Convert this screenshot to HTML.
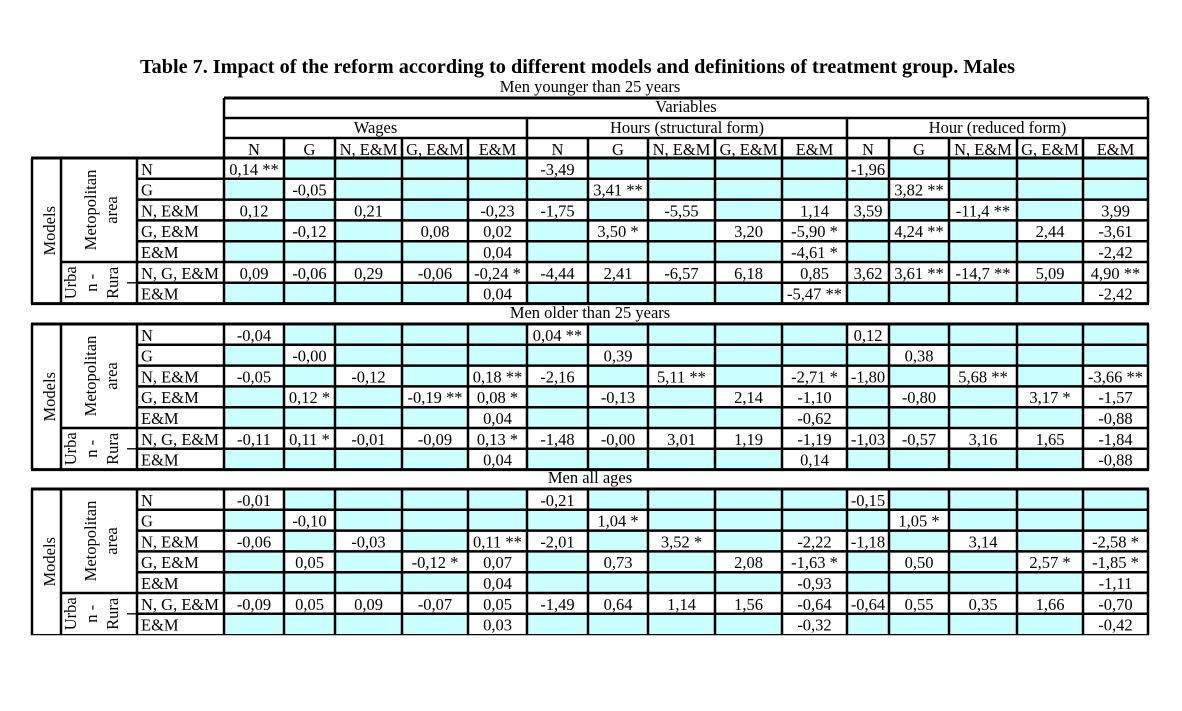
<!DOCTYPE html>
<html>
<head>
<meta charset="utf-8">
<style>
html,body{margin:0;padding:0;background:#fff;}
svg{display:block;}
</style>
</head>
<body>
<svg xmlns="http://www.w3.org/2000/svg" width="1182" height="711" viewBox="0 0 1182 711" font-family="'Liberation Serif', 'Times New Roman', serif" font-size="16.5" fill="#000">
<defs>
<g id="cy" fill="#ccffff">
<rect x="284" y="0" width="243" height="20.8"/>
<rect x="588" y="0" width="259" height="20.8"/>
<rect x="889" y="0" width="259" height="20.8"/>
<rect x="224" y="20.8" width="60" height="20.8"/>
<rect x="335" y="20.8" width="192" height="20.8"/>
<rect x="527" y="20.8" width="61" height="20.8"/>
<rect x="648" y="20.8" width="199" height="20.8"/>
<rect x="847" y="20.8" width="42" height="20.8"/>
<rect x="949" y="20.8" width="199" height="20.8"/>
<rect x="284" y="41.6" width="51" height="20.8"/>
<rect x="402" y="41.6" width="66" height="20.8"/>
<rect x="588" y="41.6" width="60" height="20.8"/>
<rect x="715" y="41.6" width="67" height="20.8"/>
<rect x="889" y="41.6" width="60" height="20.8"/>
<rect x="1017" y="41.6" width="66" height="20.8"/>
<rect x="224" y="62.4" width="60" height="20.8"/>
<rect x="335" y="62.4" width="67" height="20.8"/>
<rect x="527" y="62.4" width="61" height="20.8"/>
<rect x="648" y="62.4" width="67" height="20.8"/>
<rect x="847" y="62.4" width="42" height="20.8"/>
<rect x="949" y="62.4" width="68" height="20.8"/>
<rect x="224" y="83.2" width="244" height="20.8"/>
<rect x="527" y="83.2" width="255" height="20.8"/>
<rect x="847" y="83.2" width="236" height="20.8"/>
<rect x="224" y="124.8" width="244" height="20.8"/>
<rect x="527" y="124.8" width="255" height="20.8"/>
<rect x="847" y="124.8" width="236" height="20.8"/>
</g>
<g id="ln">
<path d="M137 20.8H1148M137 41.6H1148M137 62.4H1148M137 83.2H1148M61 104H1148M137 124.8H1148M32 0V145.6M61 0V145.6M137 0V145.6M224 0V145.6M284 0V145.6M335 0V145.6M402 0V145.6M468 0V145.6M527 0V145.6M588 0V145.6M648 0V145.6M715 0V145.6M782 0V145.6M847 0V145.6M889 0V145.6M949 0V145.6M1017 0V145.6M1083 0V145.6M1148 0V145.6" stroke="#000" stroke-width="2.5" fill="none"/>
</g>
</defs>

<!-- Title -->
<text x="140" y="73" font-weight="bold" font-size="20" textLength="875" lengthAdjust="spacingAndGlyphs">Table 7. Impact of the reform according to different models and definitions of treatment group. Males</text>
<text x="590" y="92" text-anchor="middle">Men younger than 25 years</text>
<text x="590" y="318" text-anchor="middle">Men older than 25 years</text>
<text x="590" y="483" text-anchor="middle">Men all ages</text>

<!-- Cyan fills -->
<use href="#cy" transform="translate(0,158)"/>
<use href="#cy" transform="translate(0,324)"/>
<use href="#cy" transform="translate(0,489)"/>

<!-- Header lines -->
<path d="M224 98H1148" stroke="#000" stroke-width="3" fill="none"/>
<path d="M224 118H1148M224 138H1148M224 98V158M1148 98V158M527 118V158M847 118V158M284 138V158M335 138V158M402 138V158M468 138V158M588 138V158M648 138V158M715 138V158M782 138V158M889 138V158M949 138V158M1017 138V158M1083 138V158" stroke="#000" stroke-width="2.5" fill="none"/>

<!-- Block lines -->
<use href="#ln" transform="translate(0,158)"/>
<use href="#ln" transform="translate(0,324)"/>
<use href="#ln" transform="translate(0,489)"/>
<path d="M31 158H1149M31 303.6H1149M31 324H1149M31 469.6H1149M31 489H1149" stroke="#000" stroke-width="3" fill="none"/>
<path d="M31 634.6H1149" stroke="#000" stroke-width="1.3" fill="none"/>
<path d="M127 282.8H136M127 448.8H136M127 613.8H136" stroke="#000" stroke-width="1.3" fill="none"/>

<!-- Header text -->
<g text-anchor="middle">
<text x="686" y="112">Variables</text>
<text x="375.5" y="133">Wages</text>
<text x="687" y="133">Hours (structural form)</text>
<text x="997.5" y="133">Hour (reduced form)</text>
<text x="254" y="155">N</text><text x="309.5" y="155">G</text><text x="368.5" y="155">N, E&amp;M</text><text x="435" y="155">G, E&amp;M</text><text x="497.5" y="155">E&amp;M</text>
<text x="557.5" y="155">N</text><text x="618" y="155">G</text><text x="681.5" y="155">N, E&amp;M</text><text x="748.5" y="155">G, E&amp;M</text><text x="814.5" y="155">E&amp;M</text>
<text x="868" y="155">N</text><text x="919" y="155">G</text><text x="983" y="155">N, E&amp;M</text><text x="1050" y="155">G, E&amp;M</text><text x="1115.5" y="155">E&amp;M</text>
</g>

<!-- Vertical labels -->
<g text-anchor="middle">
<text transform="translate(55,230.8) rotate(-90)">Models</text>
<text transform="translate(96,210) rotate(-90)">Metopolitan</text>
<text transform="translate(117,210) rotate(-90)">area</text>
<text transform="translate(76,282.8) rotate(-90)">Urba</text>
<text transform="translate(97,282.8) rotate(-90)">n -</text>
<text transform="translate(118,282.8) rotate(-90)">Rura</text>

<text transform="translate(55,396.8) rotate(-90)">Models</text>
<text transform="translate(96,376) rotate(-90)">Metopolitan</text>
<text transform="translate(117,376) rotate(-90)">area</text>
<text transform="translate(76,448.8) rotate(-90)">Urba</text>
<text transform="translate(97,448.8) rotate(-90)">n -</text>
<text transform="translate(118,448.8) rotate(-90)">Rura</text>

<text transform="translate(55,561.8) rotate(-90)">Models</text>
<text transform="translate(96,541) rotate(-90)">Metopolitan</text>
<text transform="translate(117,541) rotate(-90)">area</text>
<text transform="translate(76,613.8) rotate(-90)">Urba</text>
<text transform="translate(97,613.8) rotate(-90)">n -</text>
<text transform="translate(118,613.8) rotate(-90)">Rura</text>
</g>

<!-- Row labels -->
<g>
<text x="141" y="174.8">N</text><text x="141" y="195.6">G</text><text x="141" y="216.4">N, E&amp;M</text><text x="141" y="237.2">G, E&amp;M</text><text x="141" y="258">E&amp;M</text><text x="141" y="278.8">N, G, E&amp;M</text><text x="141" y="299.6">E&amp;M</text>
<text x="141" y="340.8">N</text><text x="141" y="361.6">G</text><text x="141" y="382.4">N, E&amp;M</text><text x="141" y="403.2">G, E&amp;M</text><text x="141" y="424">E&amp;M</text><text x="141" y="444.8">N, G, E&amp;M</text><text x="141" y="465.6">E&amp;M</text>
<text x="141" y="505.8">N</text><text x="141" y="526.6">G</text><text x="141" y="547.4">N, E&amp;M</text><text x="141" y="568.2">G, E&amp;M</text><text x="141" y="589">E&amp;M</text><text x="141" y="609.8">N, G, E&amp;M</text><text x="141" y="630.6">E&amp;M</text>
</g>

<!-- Block 1 values -->
<g text-anchor="middle">
<text x="254" y="174.8">0,14 **</text><text x="557.5" y="174.8">-3,49</text><text x="868" y="174.8">-1,96</text>
<text x="309.5" y="195.6">-0,05</text><text x="618" y="195.6">3,41 **</text><text x="919" y="195.6">3,82 **</text>
<text x="254" y="216.4">0,12</text><text x="368.5" y="216.4">0,21</text><text x="497.5" y="216.4">-0,23</text><text x="557.5" y="216.4">-1,75</text><text x="681.5" y="216.4">-5,55</text><text x="814.5" y="216.4">1,14</text><text x="868" y="216.4">3,59</text><text x="983" y="216.4">-11,4 **</text><text x="1115.5" y="216.4">3,99</text>
<text x="309.5" y="237.2">-0,12</text><text x="435" y="237.2">0,08</text><text x="497.5" y="237.2">0,02</text><text x="618" y="237.2">3,50 *</text><text x="748.5" y="237.2">3,20</text><text x="814.5" y="237.2">-5,90 *</text><text x="919" y="237.2">4,24 **</text><text x="1050" y="237.2">2,44</text><text x="1115.5" y="237.2">-3,61</text>
<text x="497.5" y="258">0,04</text><text x="814.5" y="258">-4,61 *</text><text x="1115.5" y="258">-2,42</text>
<text x="254" y="278.8">0,09</text><text x="309.5" y="278.8">-0,06</text><text x="368.5" y="278.8">0,29</text><text x="435" y="278.8">-0,06</text><text x="497.5" y="278.8">-0,24 *</text><text x="557.5" y="278.8">-4,44</text><text x="618" y="278.8">2,41</text><text x="681.5" y="278.8">-6,57</text><text x="748.5" y="278.8">6,18</text><text x="814.5" y="278.8">0,85</text><text x="868" y="278.8">3,62</text><text x="919" y="278.8">3,61 **</text><text x="983" y="278.8">-14,7 **</text><text x="1050" y="278.8">5,09</text><text x="1115.5" y="278.8">4,90 **</text>
<text x="497.5" y="299.6">0,04</text><text x="814.5" y="299.6">-5,47 **</text><text x="1115.5" y="299.6">-2,42</text>
</g>

<!-- Block 2 values -->
<g text-anchor="middle">
<text x="254" y="340.8">-0,04</text><text x="557.5" y="340.8">0,04 **</text><text x="868" y="340.8">0,12</text>
<text x="309.5" y="361.6">-0,00</text><text x="618" y="361.6">0,39</text><text x="919" y="361.6">0,38</text>
<text x="254" y="382.4">-0,05</text><text x="368.5" y="382.4">-0,12</text><text x="497.5" y="382.4">0,18 **</text><text x="557.5" y="382.4">-2,16</text><text x="681.5" y="382.4">5,11 **</text><text x="814.5" y="382.4">-2,71 *</text><text x="868" y="382.4">-1,80</text><text x="983" y="382.4">5,68 **</text><text x="1115.5" y="382.4">-3,66 **</text>
<text x="309.5" y="403.2">0,12 *</text><text x="435" y="403.2">-0,19 **</text><text x="497.5" y="403.2">0,08 *</text><text x="618" y="403.2">-0,13</text><text x="748.5" y="403.2">2,14</text><text x="814.5" y="403.2">-1,10</text><text x="919" y="403.2">-0,80</text><text x="1050" y="403.2">3,17 *</text><text x="1115.5" y="403.2">-1,57</text>
<text x="497.5" y="424">0,04</text><text x="814.5" y="424">-0,62</text><text x="1115.5" y="424">-0,88</text>
<text x="254" y="444.8">-0,11</text><text x="309.5" y="444.8">0,11 *</text><text x="368.5" y="444.8">-0,01</text><text x="435" y="444.8">-0,09</text><text x="497.5" y="444.8">0,13 *</text><text x="557.5" y="444.8">-1,48</text><text x="618" y="444.8">-0,00</text><text x="681.5" y="444.8">3,01</text><text x="748.5" y="444.8">1,19</text><text x="814.5" y="444.8">-1,19</text><text x="868" y="444.8">-1,03</text><text x="919" y="444.8">-0,57</text><text x="983" y="444.8">3,16</text><text x="1050" y="444.8">1,65</text><text x="1115.5" y="444.8">-1,84</text>
<text x="497.5" y="465.6">0,04</text><text x="814.5" y="465.6">0,14</text><text x="1115.5" y="465.6">-0,88</text>
</g>

<!-- Block 3 values -->
<g text-anchor="middle">
<text x="254" y="505.8">-0,01</text><text x="557.5" y="505.8">-0,21</text><text x="868" y="505.8">-0,15</text>
<text x="309.5" y="526.6">-0,10</text><text x="618" y="526.6">1,04 *</text><text x="919" y="526.6">1,05 *</text>
<text x="254" y="547.4">-0,06</text><text x="368.5" y="547.4">-0,03</text><text x="497.5" y="547.4">0,11 **</text><text x="557.5" y="547.4">-2,01</text><text x="681.5" y="547.4">3,52 *</text><text x="814.5" y="547.4">-2,22</text><text x="868" y="547.4">-1,18</text><text x="983" y="547.4">3,14</text><text x="1115.5" y="547.4">-2,58 *</text>
<text x="309.5" y="568.2">0,05</text><text x="435" y="568.2">-0,12 *</text><text x="497.5" y="568.2">0,07</text><text x="618" y="568.2">0,73</text><text x="748.5" y="568.2">2,08</text><text x="814.5" y="568.2">-1,63 *</text><text x="919" y="568.2">0,50</text><text x="1050" y="568.2">2,57 *</text><text x="1115.5" y="568.2">-1,85 *</text>
<text x="497.5" y="589">0,04</text><text x="814.5" y="589">-0,93</text><text x="1115.5" y="589">-1,11</text>
<text x="254" y="609.8">-0,09</text><text x="309.5" y="609.8">0,05</text><text x="368.5" y="609.8">0,09</text><text x="435" y="609.8">-0,07</text><text x="497.5" y="609.8">0,05</text><text x="557.5" y="609.8">-1,49</text><text x="618" y="609.8">0,64</text><text x="681.5" y="609.8">1,14</text><text x="748.5" y="609.8">1,56</text><text x="814.5" y="609.8">-0,64</text><text x="868" y="609.8">-0,64</text><text x="919" y="609.8">0,55</text><text x="983" y="609.8">0,35</text><text x="1050" y="609.8">1,66</text><text x="1115.5" y="609.8">-0,70</text>
<text x="497.5" y="630.6">0,03</text><text x="814.5" y="630.6">-0,32</text><text x="1115.5" y="630.6">-0,42</text>
</g>
</svg>
</body>
</html>
